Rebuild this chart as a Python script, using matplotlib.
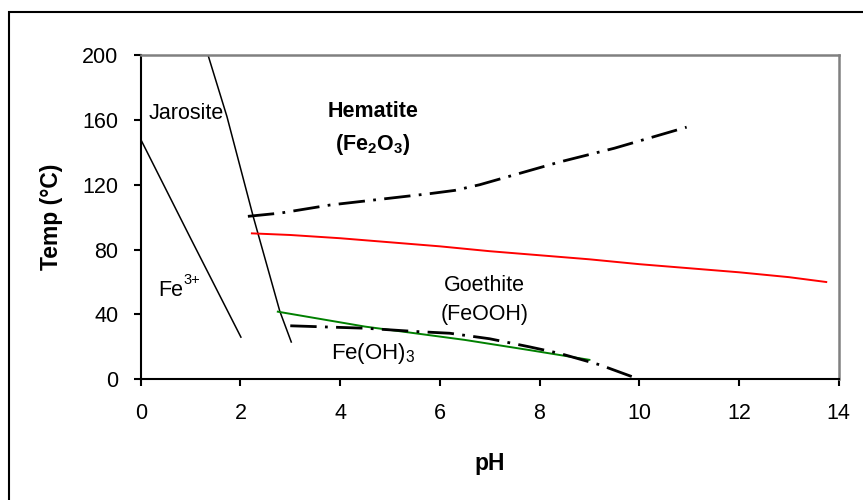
import matplotlib
matplotlib.use("Agg")
import matplotlib.pyplot as plt
from matplotlib.patches import Rectangle

plt.rcParams["font.family"] = ["Liberation Sans", "DejaVu Sans"]
plt.rcParams["mathtext.fontset"] = "custom"
plt.rcParams["mathtext.rm"] = "Liberation Sans"
plt.rcParams["mathtext.it"] = "Liberation Sans"
plt.rcParams["mathtext.bf"] = "Liberation Sans:bold"
plt.rcParams["lines.scale_dashes"] = False

# Phase boundaries (pH, temperature in °C)
fe3_jarosite_ph = [0.0, 1.0, 2.01]
fe3_jarosite_t = [148, 87, 26]

jarosite_hematite_ph = [1.35, 1.5, 1.73, 2.26, 2.79, 3.02]
jarosite_hematite_t = [200, 185, 162, 100, 42, 23]

hematite_upper_ph = [2.15, 2.8, 3.8, 5.8, 6.3, 6.8, 8.4, 9.5, 10.95]
hematite_upper_t = [100.5, 102.5, 107.5, 114.5, 116.5, 120, 134, 142.5, 155.5]

goethite_red_ph = [2.23, 3, 4, 5, 6, 7, 8, 9, 10, 11, 12, 13, 13.75]
goethite_red_t = [90, 89, 87, 84.5, 82, 79, 76.5, 74, 71, 68.5, 66, 63, 60]

feoh3_green_ph = [2.75, 4.5, 6.5, 7.8, 9.0]
feoh3_green_t = [41.7, 32.5, 24.3, 18, 12]

feoh3_lower_ph = [3.0, 4.5, 5.5, 6.2, 7.0, 7.8, 8.4, 9.2, 10.0]
feoh3_lower_t = [33, 31.5, 29.5, 28.4, 25, 20, 16, 9, 0]

x_ticks = [0, 2, 4, 6, 8, 10, 12, 14]
y_ticks = [0, 40, 80, 120, 160, 200]

fig = plt.figure(figsize=(8.63, 5.0), dpi=100)
ax = fig.add_axes([140.7 / 863, 1 - 379.3 / 500, 698 / 863, 324.3 / 500])

dashdot = (0, (19, 6, 2, 6))

ax.plot(fe3_jarosite_ph, fe3_jarosite_t, color="black", lw=1.1)
ax.plot(jarosite_hematite_ph, jarosite_hematite_t, color="black", lw=1.1)
ax.plot(hematite_upper_ph, hematite_upper_t, color="black", lw=2.0, linestyle=dashdot)
ax.plot(goethite_red_ph, goethite_red_t, color="#ff0000", lw=1.4)
ax.plot(feoh3_green_ph, feoh3_green_t, color="#008000", lw=1.4)
ax.plot(feoh3_lower_ph, feoh3_lower_t, color="black", lw=2.0, linestyle=dashdot)

ax.set_xlim(0, 14)
ax.set_ylim(0, 200)
ax.set_xticks(x_ticks)
ax.set_yticks(y_ticks)
ax.tick_params(axis="both", direction="out", length=5, width=1.5, labelsize=15.5)
ax.tick_params(axis="y", pad=11)
ax.tick_params(axis="x", pad=12)

for side in ("left", "bottom"):
    ax.spines[side].set_color("black")
    ax.spines[side].set_linewidth(1.5)
for side in ("top", "right"):
    ax.spines[side].set_color("#808080")
    ax.spines[side].set_linewidth(1.8)

ax.set_xlabel("pH", fontsize=16.5, fontweight="bold", labelpad=20)
ax.set_ylabel("Temp (\u00b0C)", fontsize=16.5, fontweight="bold", labelpad=14)

ax.text(0.91, 164, "Jarosite", fontsize=15.5, ha="center", va="center")
ax.text(4.66, 165, "Hematite", fontsize=15.5, fontweight="bold", ha="center", va="center")
ax.text(4.66, 145, r"$\mathbf{(Fe_2O_3)}$", fontsize=15.5, ha="center", va="center")

# Fe3+ label: base text plus a raised, smaller charge
ax.text(0.85, 55, "Fe", fontsize=15.5, ha="right", va="center")
ax.annotate("3+", xy=(0.85, 55), xycoords="data", xytext=(0.5, 2),
            textcoords="offset points", fontsize=10.5, ha="left", va="bottom")

ax.text(6.9, 58, "Goethite", fontsize=15.5, ha="center", va="center")
ax.text(6.9, 40, "(FeOOH)", fontsize=15.5, ha="center", va="center")
ax.text(4.66, 16, r"Fe(OH)$_3$", fontsize=16, ha="center", va="center")

# outer chart frame
fig.patches.append(Rectangle((9 / 863, -0.1), 1.2, (500 - 12) / 500 + 0.1,
                             transform=fig.transFigure, fill=False,
                             edgecolor="black", linewidth=1.5, clip_on=False))

fig.savefig("out.png", dpi=100)
